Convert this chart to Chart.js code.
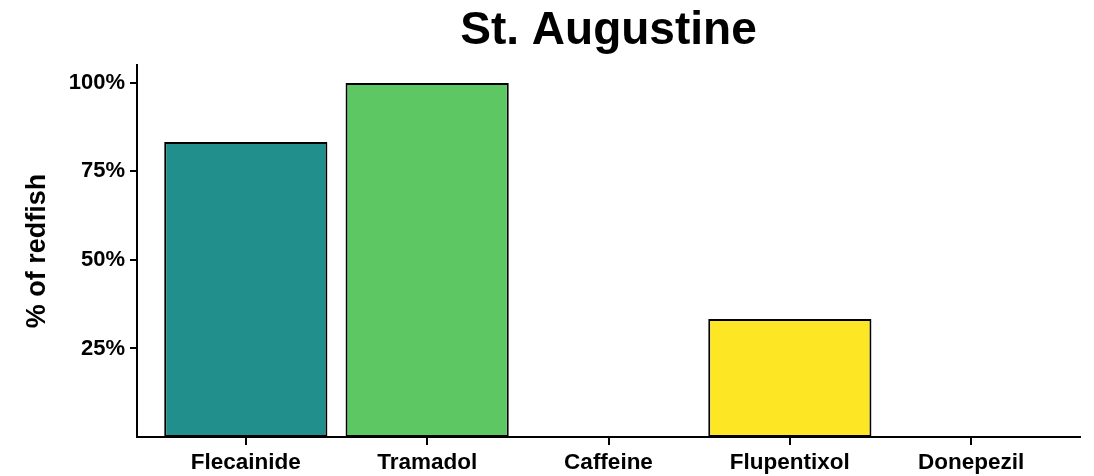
<!DOCTYPE html>
<html>
<head>
<meta charset="utf-8">
<script src="https://cdn.jsdelivr.net/npm/chart.js@4"></script>
<style>
html,body{margin:0;padding:0;background:#fff;}
#wrap{width:1094px;height:476px;position:relative;}
</style>
</head>
<body>
<div id="wrap"><canvas id="c" width="1094" height="476"></canvas></div>
<script>
const categories = ["Flecainide", "Tramadol", "Caffeine", "Flupentixol", "Donepezil"];
const percentRedfish = [83.33, 100, 0, 33.33, 0];
const barColors = ["#21908C", "#5DC863", "#3B528B", "#FDE725", "#440154"];
const yTickValues = [25, 50, 75, 100];
const titleText = "St. Augustine";
const yAxisTitle = "% of redfish";

const FONT = "'Liberation Sans', Arial, sans-serif";
const points = categories.map((c, i) => ({ x: i + 1, y: percentRedfish[i] }));
const borderWidths = percentRedfish.map(v => v > 0 ? 2 : 0);

new Chart(document.getElementById('c'), {
  type: 'bar',
  data: {
    datasets: [{
      data: points,
      backgroundColor: barColors,
      borderColor: '#000000',
      borderWidth: borderWidths,
      borderSkipped: false,
      barPercentage: 0.9,
      categoryPercentage: 1.0
    }]
  },
  options: {
    responsive: false,
    animation: false,
    devicePixelRatio: 1,
    layout: { padding: { left: 0, right: 14, top: 0, bottom: 0 } },
    plugins: {
      legend: { display: false },
      tooltip: { enabled: false },
      title: {
        display: true,
        text: titleText,
        fullSize: false,
        color: '#000',
        font: { family: FONT, size: 46, weight: 'bold', lineHeight: 1.2 },
        padding: { top: 4, bottom: 6 }
      }
    },
    scales: {
      x: {
        type: 'linear',
        min: 0.4,
        max: 5.6,
        offset: false,
        afterBuildTicks: s => { s.ticks = categories.map((c, i) => ({ value: i + 1 })); },
        afterFit: s => { s.height = 39; },
        ticks: {
          color: '#000',
          font: { family: FONT, size: 22.5, weight: 'bold' },
          padding: 4,
          maxRotation: 0,
          autoSkip: false,
          callback: v => categories[Math.round(v) - 1]
        },
        grid: { display: true, offset: false, drawOnChartArea: false, drawTicks: true, tickLength: 8, color: '#000', lineWidth: 2 },
        border: { display: true, color: '#000', width: 2 }
      },
      y: {
        type: 'linear',
        min: 0,
        max: 105,
        afterBuildTicks: s => { s.ticks = yTickValues.map(v => ({ value: v })); },
        afterFit: s => { s.width = 137; },
        ticks: {
          color: '#000',
          font: { family: FONT, size: 22, weight: 'bold' },
          padding: 5,
          callback: v => v + '%'
        },
        grid: { display: true, drawOnChartArea: false, drawTicks: true, tickLength: 7, color: '#000', lineWidth: 2 },
        border: { display: true, color: '#000', width: 2 },
        title: {
          display: true,
          text: yAxisTitle,
          color: '#000',
          font: { family: FONT, size: 27, weight: 'bold', lineHeight: 1.2 },
          padding: { top: 21, bottom: 0 }
        }
      }
    }
  }
});
</script>
</body>
</html>
